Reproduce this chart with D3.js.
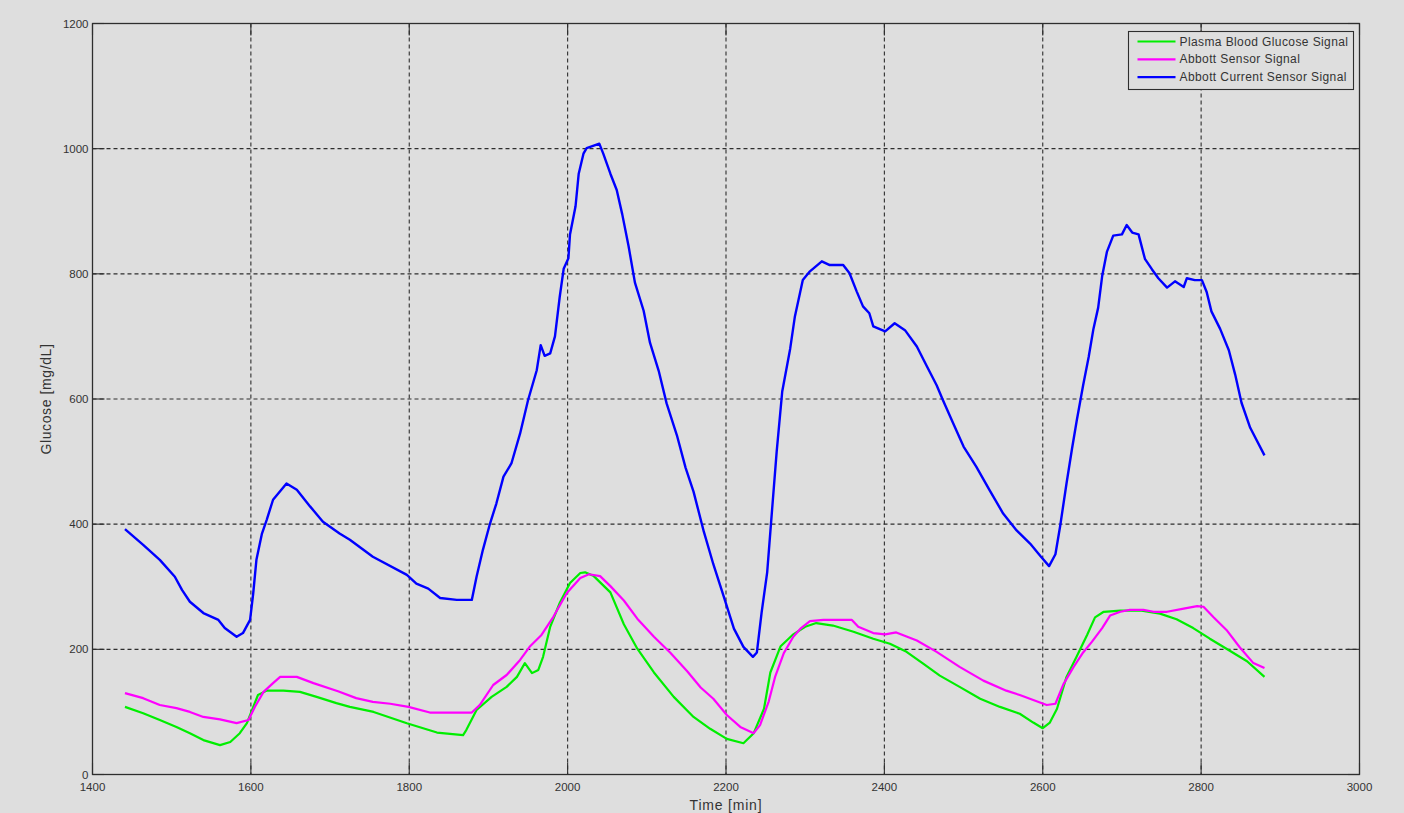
<!DOCTYPE html>
<html>
<head>
<meta charset="utf-8">
<script src="https://cdn.jsdelivr.net/npm/d3@7"></script>
<style>
  html, body { margin: 0; padding: 0; background: #dedede; }
  svg { display: block; }
  text { font-family: "Liberation Sans", Arial, sans-serif; }
</style>
</head>
<body>
<svg id="chart" width="1404" height="813"></svg>
<script>
// Time axis ticks and glucose axis ticks
const xTicks = [1400, 1600, 1800, 2000, 2200, 2400, 2600, 2800, 3000];
const yTicks = [0, 200, 400, 600, 800, 1000, 1200];

// Plasma blood glucose reference signal (time in min, glucose in mg/dL)
const plasmaTime = [1441, 1464, 1485, 1506, 1523, 1540, 1561, 1574, 1586, 1595, 1603, 1609, 1620, 1641, 1662, 1683, 1708, 1725, 1755, 1797, 1835, 1868, 1872, 1885, 1904, 1923, 1936, 1946, 1955, 1963, 1969, 1978, 1990, 2003, 2016, 2022, 2033, 2054, 2071, 2088, 2109, 2134, 2159, 2180, 2201, 2222, 2235, 2248, 2256, 2269, 2285, 2300, 2314, 2335, 2361, 2386, 2407, 2428, 2449, 2470, 2495, 2521, 2546, 2571, 2588, 2600, 2609, 2618, 2630, 2643, 2656, 2666, 2677, 2698, 2723, 2748, 2769, 2790, 2811, 2832, 2858, 2880];
const plasmaValues = [108, 98, 87, 76, 66, 55, 47, 52, 66, 82, 108, 127, 134, 134, 132, 124, 114, 108, 100, 82, 67, 63, 71, 103, 124, 140, 156, 178, 162, 167, 188, 236, 274, 306, 322, 323, 317, 291, 240, 201, 163, 124, 92, 73, 57, 50, 66, 105, 163, 205, 224, 236, 242, 238, 228, 217, 209, 196, 177, 158, 140, 121, 108, 97, 83, 74, 83, 105, 156, 189, 223, 251, 260, 262, 262, 257, 248, 234, 217, 201, 181, 156];

// Abbott sensor signal
const sensorTime = [1441, 1464, 1485, 1506, 1523, 1540, 1561, 1582, 1597, 1605, 1616, 1628, 1637, 1658, 1679, 1710, 1733, 1754, 1776, 1799, 1826, 1851, 1879, 1889, 1906, 1923, 1940, 1952, 1967, 1982, 1999, 2016, 2027, 2041, 2054, 2071, 2088, 2109, 2130, 2151, 2168, 2184, 2201, 2218, 2235, 2243, 2254, 2262, 2273, 2285, 2294, 2306, 2323, 2359, 2367, 2386, 2401, 2415, 2441, 2466, 2495, 2525, 2554, 2571, 2588, 2605, 2616, 2626, 2639, 2651, 2662, 2675, 2685, 2698, 2710, 2727, 2740, 2757, 2778, 2795, 2803, 2816, 2832, 2849, 2866, 2880];
const sensorValues = [130, 122, 111, 106, 100, 92, 88, 82, 87, 108, 132, 146, 156, 156, 146, 133, 122, 116, 113, 108, 99, 99, 99, 111, 143, 159, 183, 204, 223, 252, 290, 314, 320, 317, 301, 278, 249, 220, 194, 165, 139, 121, 95, 76, 66, 79, 117, 156, 194, 220, 233, 245, 247, 247, 236, 226, 224, 227, 214, 196, 172, 150, 134, 127, 119, 111, 113, 144, 172, 195, 212, 234, 254, 260, 263, 263, 260, 260, 265, 269, 268, 251, 231, 203, 178, 170];

// Abbott current sensor signal
const currentTime = [1441, 1464, 1485, 1504, 1513, 1523, 1540, 1559, 1567, 1582, 1590, 1599, 1603, 1607, 1614, 1620, 1628, 1645, 1658, 1675, 1691, 1712, 1725, 1754, 1797, 1809, 1824, 1839, 1860, 1879, 1885, 1893, 1902, 1910, 1919, 1929, 1940, 1950, 1961, 1966, 1971, 1978, 1984, 1990, 1995, 2001, 2003, 2010, 2014, 2020, 2024, 2033, 2040, 2045, 2054, 2062, 2069, 2077, 2085, 2096, 2104, 2115, 2125, 2138, 2149, 2159, 2172, 2184, 2197, 2210, 2222, 2234, 2239, 2245, 2252, 2258, 2264, 2271, 2281, 2287, 2297, 2306, 2321, 2331, 2348, 2356, 2365, 2373, 2381, 2386, 2401, 2413, 2426, 2441, 2453, 2466, 2474, 2487, 2500, 2516, 2533, 2550, 2567, 2584, 2597, 2608, 2616, 2622, 2630, 2637, 2643, 2651, 2658, 2664, 2670, 2675, 2681, 2689, 2700, 2706, 2713, 2721, 2729, 2738, 2746, 2757, 2767, 2778, 2782, 2792, 2801, 2807, 2813, 2824, 2835, 2843, 2851, 2862, 2880];
const currentValues = [392, 367, 343, 316, 295, 276, 258, 247, 234, 220, 226, 247, 290, 343, 385, 407, 439, 465, 455, 428, 404, 385, 375, 348, 319, 305, 297, 282, 279, 279, 316, 359, 401, 433, 476, 497, 545, 598, 646, 686, 669, 673, 700, 763, 808, 825, 863, 908, 960, 992, 1001, 1005, 1008, 992, 960, 934, 895, 844, 786, 741, 690, 645, 593, 542, 490, 452, 388, 336, 285, 233, 204, 188, 195, 259, 323, 420, 516, 612, 680, 732, 790, 804, 820, 814, 814, 801, 772, 748, 737, 716, 708, 721, 710, 684, 654, 622, 598, 561, 524, 492, 454, 417, 390, 369, 349, 333, 352, 397, 465, 521, 566, 622, 667, 712, 746, 796, 835, 861, 863, 878, 866, 863, 824, 807, 793, 778, 788, 779, 793, 790, 790, 771, 740, 712, 678, 639, 594, 554, 510];

const seriesNames = ["Plasma Blood Glucose Signal", "Abbott Sensor Signal", "Abbott Current Sensor Signal"];
const seriesColors = ["#00ee00", "#ff00ff", "#0000ff"];

const svg = d3.select("#chart");
const W = 1404, H = 813;
const plot = { left: 92.5, right: 1359.5, top: 23.5, bottom: 774.5 };

svg.append("rect").attr("width", W).attr("height", H).attr("fill", "#dedede");

const x = d3.scaleLinear().domain([1400, 3000]).range([plot.left, plot.right]);
const y = d3.scaleLinear().domain([0, 1200]).range([plot.bottom, plot.top]);

const ink = "#2e2e2e";

// Dotted grid
const grid = svg.append("g");
grid.selectAll("line.gx").data(xTicks.slice(1, -1)).join("line")
  .attr("x1", d => x(d)).attr("x2", d => x(d))
  .attr("y1", plot.top).attr("y2", plot.bottom)
  .attr("stroke", ink).attr("stroke-width", 1.1).attr("stroke-dasharray", "4,3");
grid.selectAll("line.gy").data(yTicks.slice(1, -1)).join("line")
  .attr("y1", d => y(d)).attr("y2", d => y(d))
  .attr("x1", plot.left).attr("x2", plot.right)
  .attr("stroke", ink).attr("stroke-width", 1.1).attr("stroke-dasharray", "4,3");

// Inward tick marks on all four sides
const tickLen = 12;
const ticks = svg.append("g").attr("stroke", ink).attr("stroke-width", 1.1);
xTicks.forEach(t => {
  ticks.append("line").attr("x1", x(t)).attr("x2", x(t)).attr("y1", plot.bottom).attr("y2", plot.bottom - tickLen);
  ticks.append("line").attr("x1", x(t)).attr("x2", x(t)).attr("y1", plot.top).attr("y2", plot.top + tickLen);
});
yTicks.forEach(v => {
  ticks.append("line").attr("y1", y(v)).attr("y2", y(v)).attr("x1", plot.left).attr("x2", plot.left + tickLen);
  ticks.append("line").attr("y1", y(v)).attr("y2", y(v)).attr("x1", plot.right).attr("x2", plot.right - tickLen);
});

// Data lines
const line = d3.line().x(d => x(d[0])).y(d => y(d[1]));
const seriesData = [
  d3.zip(plasmaTime, plasmaValues),
  d3.zip(sensorTime, sensorValues),
  d3.zip(currentTime, currentValues)
];
const widths = [2.2, 2.2, 2.4];
seriesData.forEach((pts, i) => {
  svg.append("path").datum(pts)
    .attr("d", line)
    .attr("fill", "none")
    .attr("stroke", seriesColors[i])
    .attr("stroke-width", widths[i])
    .attr("stroke-linejoin", "round");
});

// Axes box
svg.append("rect")
  .attr("x", plot.left).attr("y", plot.top)
  .attr("width", plot.right - plot.left).attr("height", plot.bottom - plot.top)
  .attr("fill", "none").attr("stroke", ink).attr("stroke-width", 1.3);

// Tick labels
const labelColor = "#333";
svg.append("g").selectAll("text").data(xTicks).join("text")
  .attr("x", d => x(d)).attr("y", plot.bottom + 16)
  .attr("text-anchor", "middle")
  .attr("font-size", 11.5).attr("fill", labelColor)
  .text(d => d);
svg.append("g").selectAll("text").data(yTicks).join("text")
  .attr("x", plot.left - 4).attr("y", d => y(d) + 4)
  .attr("text-anchor", "end")
  .attr("font-size", 11.5).attr("fill", labelColor)
  .text(d => d);

// Axis titles
svg.append("text")
  .attr("x", (plot.left + plot.right) / 2).attr("y", 810)
  .attr("text-anchor", "middle").attr("font-size", 14).attr("letter-spacing", 0.8)
  .attr("fill", labelColor)
  .text("Time [min]");
svg.append("text")
  .attr("transform", `translate(51,${(plot.top + plot.bottom) / 2}) rotate(-90)`)
  .attr("text-anchor", "middle").attr("font-size", 14).attr("letter-spacing", 0.6)
  .attr("fill", labelColor)
  .text("Glucose [mg/dL]");

// Legend
const legend = svg.append("g").attr("transform", "translate(1128.5,31.5)");
legend.append("rect").attr("width", 225).attr("height", 58)
  .attr("fill", "#dedede").attr("stroke", ink).attr("stroke-width", 1.1);
seriesNames.forEach((name, i) => {
  const ry = 10 + i * 17.8;
  legend.append("line").attr("x1", 9).attr("x2", 47).attr("y1", ry).attr("y2", ry)
    .attr("stroke", seriesColors[i]).attr("stroke-width", 2.2);
  legend.append("text").attr("x", 51).attr("y", ry + 4)
    .attr("font-size", 12).attr("letter-spacing", 0.4).attr("fill", labelColor)
    .text(name);
});
</script>
</body>
</html>
